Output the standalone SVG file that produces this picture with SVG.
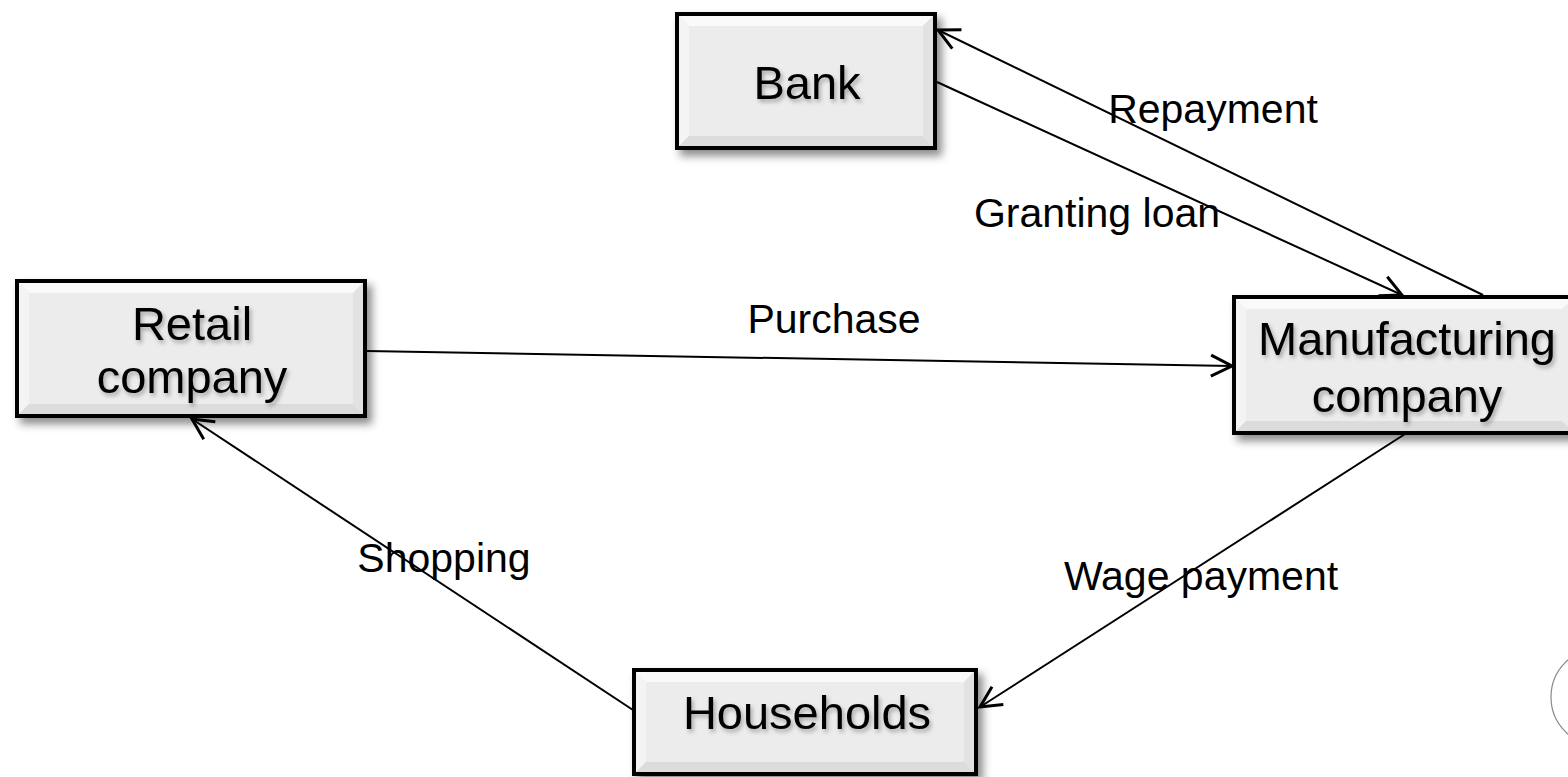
<svg xmlns="http://www.w3.org/2000/svg" width="1568" height="777" viewBox="0 0 1568 777">
<style>
.box{fill:#ececec;stroke:#000;stroke-width:4}
.hi{fill:#fafafa}
.hl{fill:#f4f4f4}
.sh{fill:#dcdcdc}
.sr{fill:#e2e2e2}
.nt{font-family:"Liberation Sans",Arial,sans-serif;font-size:47px;fill:#000;text-anchor:middle}
.lt{font-family:"Liberation Sans",Arial,sans-serif;font-size:41px;fill:#000;text-anchor:middle}
.ln{stroke:#000;stroke-width:2;fill:none;marker-end:url(#arr)}
</style>
<defs>
<marker id="arr" markerUnits="userSpaceOnUse" markerWidth="30" markerHeight="30" refX="0" refY="0" viewBox="-16 -10 20 20" orient="auto">
<path d="M-14,-7 L0,0 L-14,7" fill="none" stroke="#000" stroke-width="2"/>
</marker>
<filter id="ds" x="-10%" y="-10%" width="130%" height="140%">
<feDropShadow dx="5" dy="6" stdDeviation="4" flood-color="#000" flood-opacity="0.45"/>
</filter>
<filter id="ts" x="-10%" y="-20%" width="130%" height="150%">
<feDropShadow dx="2" dy="3" stdDeviation="2" flood-color="#000" flood-opacity="0.3"/>
</filter>
</defs>
<rect width="1568" height="777" fill="#fff"/>

<g id="bank">
<rect class="box" x="677" y="14" width="258" height="134" filter="url(#ds)"/>
<polygon class="hi" points="679,16 933,16 923,26 689,26"/>
<polygon class="hl" points="679,16 689,26 689,136 679,146"/>
<polygon class="sh" points="679,146 689,136 923,136 933,146"/>
<polygon class="sr" points="933,16 933,146 923,136 923,26"/>
<text class="nt" x="807" y="99" filter="url(#ts)">Bank</text>
</g>

<g id="retail">
<rect class="box" x="17" y="281" width="348" height="135" filter="url(#ds)"/>
<polygon class="hi" points="19,283 363,283 353,293 29,293"/>
<polygon class="hl" points="19,283 29,293 29,404 19,414"/>
<polygon class="sh" points="19,414 29,404 353,404 363,414"/>
<polygon class="sr" points="363,283 363,414 353,404 353,293"/>
<text class="nt" x="192" y="340" filter="url(#ts)">Retail</text>
<text class="nt" x="192" y="393" filter="url(#ts)">company</text>
</g>

<g id="manufacturing">
<rect class="box" x="1234" y="297" width="340" height="136" filter="url(#ds)"/>
<polygon class="hi" points="1236,299 1572,299 1562,309 1246,309"/>
<polygon class="hl" points="1236,299 1246,309 1246,421 1236,431"/>
<polygon class="sh" points="1236,431 1246,421 1562,421 1572,431"/>
<text class="nt" x="1407" y="355" filter="url(#ts)">Manufacturing</text>
<text class="nt" x="1407" y="412" filter="url(#ts)">company</text>
</g>

<g id="households">
<rect class="box" x="634" y="670" width="342" height="104" filter="url(#ds)"/>
<polygon class="hi" points="636,672 974,672 964,682 646,682"/>
<polygon class="hl" points="636,672 646,682 646,762 636,772"/>
<polygon class="sh" points="636,772 646,762 964,762 974,772"/>
<polygon class="sr" points="974,672 974,772 964,762 964,682"/>
<text class="nt" x="807" y="729" filter="url(#ts)">Households</text>
</g>

<g id="connectors">
<line class="ln" x1="1483" y1="295" x2="938" y2="30"/>
<line class="ln" x1="937" y1="82" x2="1402" y2="295"/>
<line class="ln" x1="367" y1="351" x2="1232" y2="366"/>
<line class="ln" x1="1405" y1="434" x2="980" y2="707"/>
<line class="ln" x1="633" y1="710" x2="192" y2="419"/>
</g>

<g id="labels">
<text class="lt" x="1213" y="123">Repayment</text>
<text class="lt" x="1097" y="227">Granting loan</text>
<text class="lt" x="834" y="333">Purchase</text>
<text class="lt" x="444" y="572">Shopping</text>
<text class="lt" x="1201" y="590">Wage payment</text>
</g>

<circle cx="1600" cy="697" r="49" fill="none" stroke="#888" stroke-width="1.2"/>
</svg>
